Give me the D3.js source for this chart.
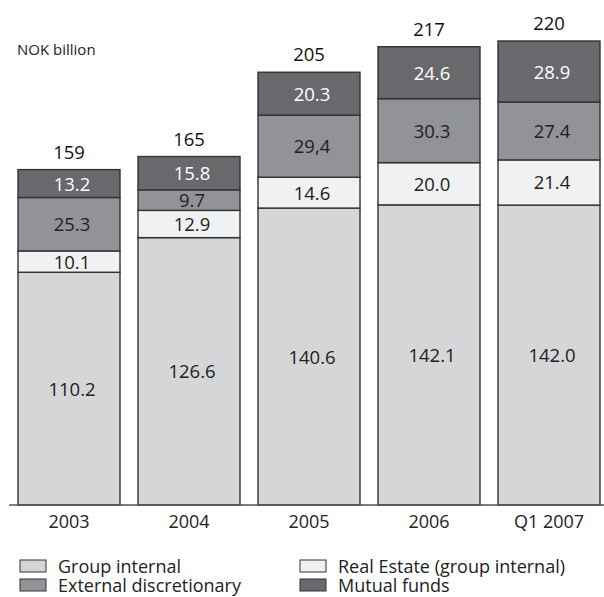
<!DOCTYPE html>
<html>
<head>
<meta charset="utf-8">
<script src="https://cdn.jsdelivr.net/npm/d3@7"></script>
<style>
  html, body { margin: 0; padding: 0; background: #fff; }
  svg { display: block; font-family: "Open Sans", "Noto Sans", sans-serif; }
</style>
</head>
<body>
<svg id="chart" width="604" height="597"></svg>
<script>
// Assets under management, NOK billion
const categories = ["2003", "2004", "2005", "2006", "Q1 2007"];
const totals = ["159", "165", "205", "217", "220"];
const seriesNames = ["Group internal", "Real Estate (group internal)", "External discretionary", "Mutual funds"];
const groupInternal = [110.2, 126.6, 140.6, 142.1, 142.0];
const realEstate = [10.1, 12.9, 14.6, 20.0, 21.4];
const externalDiscretionary = [25.3, 9.7, 29.4, 30.3, 27.4];
const mutualFunds = [13.2, 15.8, 20.3, 24.6, 28.9];
const segmentLabels = [
  ["110.2", "126.6", "140.6", "142.1", "142.0"],
  ["10.1", "12.9", "14.6", "20.0", "21.4"],
  ["25.3", "9.7", "29,4", "30.3", "27.4"],
  ["13.2", "15.8", "20.3", "24.6", "28.9"]
];

const fills = ["#d5d6d8", "#f0f1f3", "#929396", "#69696d"];
const textFills = ["#222", "#222", "#222", "#fff"];

const svg = d3.select("#chart");
const baseY = 505;

const x = d3.scaleBand().domain(categories).range([18, 600]).paddingInner(0.15).paddingOuter(0);
const y = d3.scaleLinear().domain([0, 220]).range([baseY, baseY - 220 * 2.112]);

const rows = categories.map((c, i) => ({
  cat: c,
  s0: groupInternal[i], s1: realEstate[i], s2: externalDiscretionary[i], s3: mutualFunds[i]
}));
const stack = d3.stack().keys(["s0", "s1", "s2", "s3"]);
const layers = stack(rows);

const bw = x.bandwidth();
const bx = c => x(c);

layers.forEach((layer, li) => {
  const g = svg.append("g");
  g.selectAll("rect").data(layer).join("rect")
    .attr("x", d => bx(d.data.cat))
    .attr("y", d => y(d[1]))
    .attr("width", bw)
    .attr("height", d => y(d[0]) - y(d[1]))
    .attr("fill", fills[li])
    .attr("stroke", "#333")
    .attr("stroke-width", 1.4);
  g.selectAll("text").data(layer).join("text")
    .attr("x", (d) => bx(d.data.cat) + bw / 2 + 3)
    .attr("y", d => (y(d[0]) + y(d[1])) / 2 + 7)
    .attr("text-anchor", "middle")
    .attr("font-size", 18.5)
    .attr("fill", textFills[li])
    .text((d, i) => segmentLabels[li][i]);
});

// totals above bars
svg.append("g").selectAll("text").data(layers[3]).join("text")
  .attr("x", d => bx(d.data.cat) + bw / 2)
  .attr("y", d => y(d[1]) - 11)
  .attr("text-anchor", "middle")
  .attr("font-size", 18.5)
  .attr("fill", "#111")
  .text((d, i) => totals[i]);

// baseline
svg.append("line")
  .attr("x1", 9).attr("x2", 604)
  .attr("y1", baseY).attr("y2", baseY)
  .attr("stroke", "#555").attr("stroke-width", 1.5);

// category axis
const xAxis = d3.axisBottom(x).tickSize(0).tickPadding(8);
const ax = svg.append("g").attr("transform", `translate(0,${baseY + 2})`).call(xAxis);
ax.select(".domain").remove();
ax.selectAll("text").attr("font-size", 18).attr("fill", "#222")
  .attr("font-family", '"Open Sans", "Noto Sans", sans-serif');

// unit label
svg.append("text").attr("x", 17).attr("y", 55).attr("font-size", 15).attr("fill", "#222").text("NOK billion");

// legend
const legendPos = [[20, 560], [300, 560], [20, 579], [300, 579]];
seriesNames.forEach((name, i) => {
  const [lx, ly] = legendPos[i];
  svg.append("rect").attr("x", lx).attr("y", ly).attr("width", 26).attr("height", 12)
    .attr("fill", fills[i]).attr("stroke", "#333").attr("stroke-width", 1);
  svg.append("text").attr("x", lx + 38).attr("y", ly + 12.5).attr("font-size", 18).attr("fill", "#222").text(name);
});
</script>
</body>
</html>
